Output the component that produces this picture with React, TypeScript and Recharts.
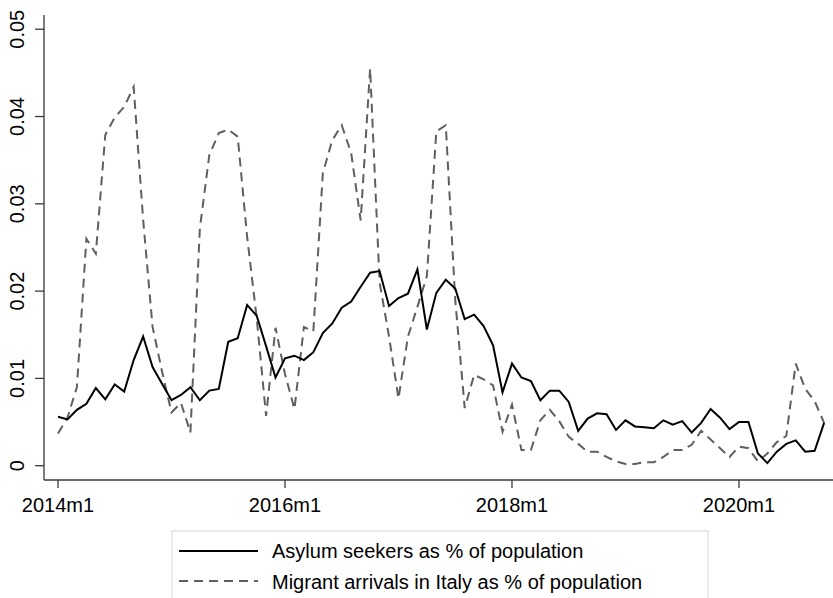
import React from "react";
import { LineChart, Line, XAxis, YAxis } from "recharts";

// Monthly series, 2014m1 .. 2020m10 (index 0 = 2014m1)
const asylumSeekers = [
  0.0056, 0.0053, 0.0064, 0.0071, 0.0089, 0.0076, 0.0093, 0.0085, 0.0121, 0.0148,
  0.0113, 0.0094, 0.0075, 0.0081, 0.0090, 0.0075, 0.0086, 0.0088, 0.0142, 0.0146,
  0.0184, 0.0172, 0.0137, 0.0101, 0.0123, 0.0126, 0.0121, 0.0130, 0.0152, 0.0163,
  0.0181, 0.0188, 0.0205, 0.0221, 0.0223, 0.0183, 0.0192, 0.0197, 0.0225, 0.0156,
  0.0198, 0.0213, 0.0203, 0.0168, 0.0173, 0.0160, 0.0138, 0.0084, 0.0117, 0.0101,
  0.0097, 0.0075, 0.0086, 0.0086, 0.0073, 0.0040, 0.0054, 0.0060, 0.0059, 0.0041,
  0.0052, 0.0045, 0.0044, 0.0043, 0.0052, 0.0047, 0.0051, 0.0038, 0.0049, 0.0065,
  0.0055, 0.0042, 0.0050, 0.0050, 0.0014, 0.0003, 0.0016, 0.0025, 0.0029, 0.0016,
  0.0017, 0.0049,
];

const migrantArrivals = [
  0.0037, 0.0055, 0.0090, 0.0260, 0.0243, 0.0379, 0.0399, 0.0411, 0.0434, 0.0282,
  0.0159, 0.0108, 0.0061, 0.0072, 0.0038, 0.0272, 0.0356, 0.0381, 0.0385, 0.0377,
  0.0262, 0.0170, 0.0057, 0.0158, 0.0105, 0.0065, 0.0159, 0.0154, 0.0335, 0.0373,
  0.0390, 0.0358, 0.0281, 0.0455, 0.0210, 0.0148, 0.0077, 0.0148, 0.0182, 0.0217,
  0.0383, 0.0390, 0.0190, 0.0066, 0.0104, 0.0099, 0.0092, 0.0039, 0.0070, 0.0018,
  0.0018, 0.0052, 0.0064, 0.0051, 0.0033, 0.0025, 0.0016, 0.0016, 0.0010, 0.0005,
  0.0002, 0.0002, 0.0004, 0.0004, 0.0010, 0.0018, 0.0018, 0.0024, 0.0040, 0.0030,
  0.0020, 0.0010, 0.0022, 0.0020, 0.0005, 0.0014, 0.0027, 0.0034, 0.0117, 0.0088,
  0.0074, 0.0049,
];

const xTickIndex = [0, 24, 48, 72];
const xTickLabels = ["2014m1", "2016m1", "2018m1", "2020m1"];
const yTicks = [0, 0.01, 0.02, 0.03, 0.04, 0.05];
const yTickLabels = ["0", "0.01", "0.02", "0.03", "0.04", "0.05"];
const seriesNames = [
  "Asylum seekers as % of population",
  "Migrant arrivals in Italy as % of population",
];

const data = asylumSeekers.map((v, i) => ({
  i,
  asylum: v,
  arrivals: migrantArrivals[i],
}));

const FONT = "'Liberation Sans', Arial, Helvetica, sans-serif";
const AXIS = "#3a3a3a";

const YTick = (props: any) => {
  const { y, payload } = props;
  const idx = yTicks.indexOf(payload.value);
  const label = idx >= 0 ? yTickLabels[idx] : String(payload.value);
  return (
    <text
      x={17}
      y={y}
      transform={`rotate(-90, 17, ${y})`}
      textAnchor="middle"
      dominantBaseline="central"
      fontSize={20}
      fontFamily={FONT}
      fill="#000"
    >
      {label}
    </text>
  );
};

const XTick = (props: any) => {
  const { x, y, payload } = props;
  const idx = xTickIndex.indexOf(payload.value);
  const label = idx >= 0 ? xTickLabels[idx] : String(payload.value);
  return (
    <text
      x={x}
      y={y}
      dy="0.71em"
      textAnchor="middle"
      fontSize={20}
      fontFamily={FONT}
      fill="#000"
    >
      {label}
    </text>
  );
};

export default function App() {
  return (
    <div
      style={{
        position: "absolute",
        left: 0,
        top: 0,
        width: 833,
        height: 598,
        background: "#fff",
        overflow: "hidden",
      }}
    >
      <LineChart
        width={833}
        height={598}
        data={data}
        margin={{ top: 15, right: 0, left: 0, bottom: 0 }}
      >
        <XAxis
          dataKey="i"
          type="number"
          domain={[-1.48, 81.94]}
          allowDataOverflow
          ticks={xTickIndex}
          tick={<XTick />}
          tickSize={8}
          tickMargin={10}
          height={118}
          stroke={AXIS}
          strokeWidth={1.3}
        />
        <YAxis
          type="number"
          domain={[-0.001638, 0.05163]}
          allowDataOverflow
          ticks={yTicks}
          tick={<YTick />}
          tickSize={9}
          width={44}
          stroke={AXIS}
          strokeWidth={1.3}
        />
        <Line
          type="linear"
          dataKey="arrivals"
          stroke="#5f5f5f"
          strokeWidth={2}
          strokeDasharray="9 6"
          dot={false}
          isAnimationActive={false}
        />
        <Line
          type="linear"
          dataKey="asylum"
          stroke="#000"
          strokeWidth={2}
          dot={false}
          isAnimationActive={false}
        />
      </LineChart>
      <svg
        width={833}
        height={598}
        style={{ position: "absolute", left: 0, top: 0, pointerEvents: "none" }}
      >
        <rect
          x={172}
          y={531}
          width={536}
          height={80}
          fill="#fff"
          stroke="#d6d6d6"
          strokeWidth={1}
        />
        <line x1={179} x2={258} y1={551} y2={551} stroke="#000" strokeWidth={2} />
        <line
          x1={179}
          x2={258}
          y1={581}
          y2={581}
          stroke="#5f5f5f"
          strokeWidth={2}
          strokeDasharray="9 6"
        />
        <text x={272} y={558} fontSize={20} fontFamily={FONT} fill="#000">
          {seriesNames[0]}
        </text>
        <text x={272} y={589} fontSize={20} fontFamily={FONT} fill="#000">
          {seriesNames[1]}
        </text>
      </svg>
    </div>
  );
}
